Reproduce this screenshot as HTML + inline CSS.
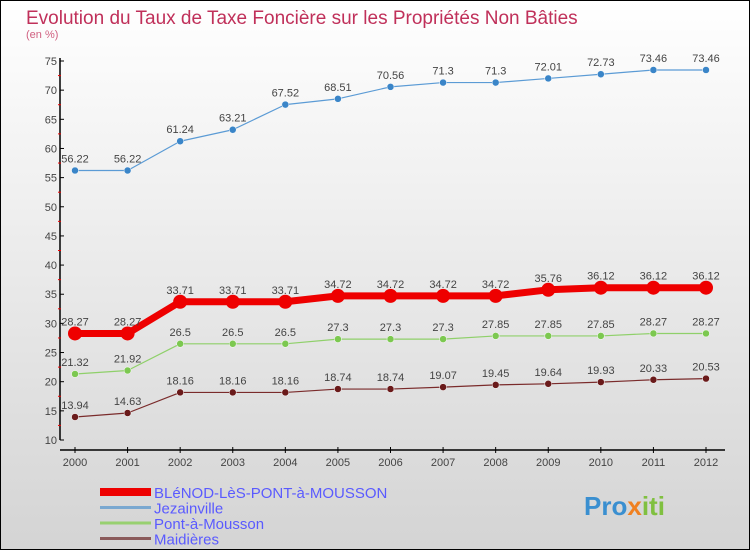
<!DOCTYPE html>
<html><head><meta charset="utf-8"><style>
body{margin:0;width:750px;height:550px;overflow:hidden}
svg{display:block;font-family:"Liberation Sans",sans-serif}
</style></head><body>
<svg id="chart" width="750" height="550">
<defs><linearGradient id="bg" x1="0" y1="0" x2="0" y2="1"><stop offset="0" stop-color="#ffffff"/><stop offset="1" stop-color="#d4d4d4"/></linearGradient></defs>
<rect x="0.5" y="0.5" width="749" height="549" fill="url(#bg)" stroke="#000"/>
<text x="26" y="24" font-size="19" fill="#c0305a">Evolution du Taux de Taxe Foncière sur les Propriétés Non Bâties</text>
<text x="26" y="38" font-size="11" fill="#d06080">(en %)</text>
<g id="axes"></g>
<g id="series"></g>
<g id="legend"></g>
<text x="584" y="515" font-size="26" font-weight="bold" fill="#3a8fd0">Pro<tspan fill="#f08020">x</tspan><tspan fill="#80c040">iti</tspan></text>
</svg>
<script>
const years=[2000,2001,2002,2003,2004,2005,2006,2007,2008,2009,2010,2011,2012];
const blenod=[28.27,28.27,33.71,33.71,33.71,34.72,34.72,34.72,34.72,35.76,36.12,36.12,36.12];
const jezainville=[56.22,56.22,61.24,63.21,67.52,68.51,70.56,71.3,71.3,72.01,72.73,73.46,73.46];
const pont=[21.32,21.92,26.5,26.5,26.5,27.3,27.3,27.3,27.85,27.85,27.85,28.27,28.27];
const maidieres=[13.94,14.63,18.16,18.16,18.16,18.74,18.74,19.07,19.45,19.64,19.93,20.33,20.53];
const yTicks=[10,15,20,25,30,35,40,45,50,55,60,65,70,75];
const NS="http://www.w3.org/2000/svg";
function xS(i){return 75+i*(706-75)/(years.length-1);}
function yS(v){return 440-(v-10)*(379/65);}
function mk(tag,attrs,parent){const e=document.createElementNS(NS,tag);for(const k in attrs)e.setAttribute(k,attrs[k]);parent.appendChild(e);return e;}
const ax=document.getElementById('axes');
let yl=mk('line',{x1:60,y1:58,x2:60,y2:440,stroke:'#000','stroke-width':1.5},ax);


let xl=mk('line',{x1:60,y1:450,x2:725,y2:450,stroke:'#000','stroke-width':1.5},ax);


yTicks.forEach(v=>{
 mk('line',{x1:60,y1:yS(v),x2:64,y2:yS(v),stroke:'#000'},ax);
 if(v<75)mk('line',{x1:58,y1:yS(v+2.5),x2:61,y2:yS(v+2.5),stroke:'#e00'},ax);
 const t=mk('text',{x:57,y:yS(v)+4,'font-size':11,fill:'#444','text-anchor':'end'},ax);t.textContent=v;
 
 
});
years.forEach((y,i)=>{
 mk('line',{x1:xS(i),y1:447,x2:xS(i),y2:453,stroke:'#000'},ax);
 const t=mk('text',{x:xS(i),y:466,'font-size':11,fill:'#444','text-anchor':'middle'},ax);t.textContent=y;
 
 
});
const sg=document.getElementById('series');
function draw(arr,color,w,r,name,dotFill){
 const g=mk('g',{},sg);
 
 
 const pl=mk('polyline',{points:arr.map((v,i)=>xS(i)+','+yS(v)).join(' '),fill:'none',stroke:color,'stroke-width':w,'stroke-linejoin':'round'},g);
 
 
 arr.forEach((v,i)=>{
  const c=mk('circle',{cx:xS(i),cy:yS(v),r:r,fill:dotFill,stroke:'#fff','stroke-width':w>4?0:0.5},g);
  
  
  const t=mk('text',{x:xS(i),y:yS(v)-8,'font-size':11,fill:'#444','text-anchor':'middle'},g);t.textContent=v;
  
  
 });
}
draw(jezainville,'#5b9bd5',1.2,3.5,'jezainville-series','#3a85c8');
draw(pont,'#8fd06a',1.2,3.5,'pont-a-mousson-series','#7cc850');
draw(maidieres,'#7a2b2b',1.2,3.5,'maidieres-series','#6a1a1a');
draw(blenod,'#ee0000',7,7,'blenod-series','#ee0000');
const lg=document.getElementById('legend');
const items=[['BLéNOD-LèS-PONT-à-MOUSSON','#ee0000',8],['Jezainville','#7aa8d0',3],['Pont-à-Mousson','#98d070',3],['Maidières','#8a5a5a',3]];
items.forEach((it,i)=>{
 const y=492+i*15.5;
 const g=mk('g',{},lg);
 
 
 mk('line',{x1:100,y1:y,x2:151,y2:y,stroke:it[1],'stroke-width':it[2]},g);
 const t=mk('text',{x:154,y:y+6,'font-size':15,fill:'#5a5aff'},g);t.textContent=it[0];
});
</script>
</body></html>
